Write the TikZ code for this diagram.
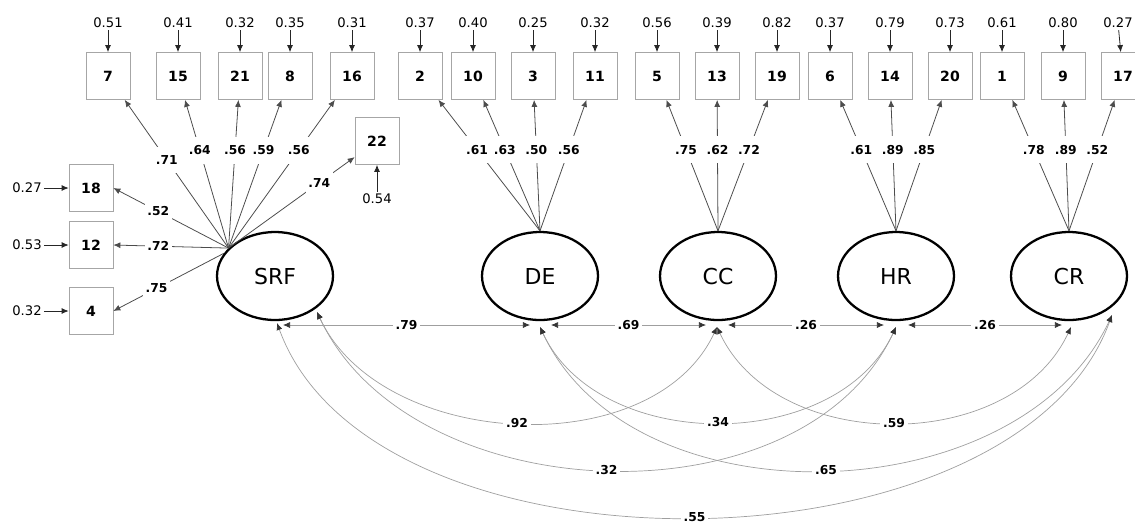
\documentclass[tikz,border=0pt]{standalone}
\usepackage{fontspec}
\setmainfont{DejaVu Sans}
\usepackage{tikz}
\usetikzlibrary{shapes,arrows.meta}
\tikzset{obs/.style={rectangle,draw=gray!70,fill=white,minimum width=0.88cm,minimum height=0.94cm,inner sep=0pt,font=\fontsize{8}{9}\selectfont\bfseries}}
\tikzset{lat/.style={ellipse,draw,line width=1.3pt,fill=white,minimum width=2.32cm,minimum height=1.76cm,inner sep=0pt,font=\fontsize{12.5}{14}\selectfont}}
\tikzset{err/.style={inner sep=1pt,font=\fontsize{7.5}{9}\selectfont}}
\tikzset{lab/.style={fill=white,inner xsep=1.5pt,inner ysep=5pt,font=\fontsize{7}{8}\selectfont\bfseries}}
\tikzset{ld/.style={->,draw=black!70,line width=0.45pt}}
\tikzset{er/.style={->,draw=black!85,line width=0.45pt}}
\tikzset{cv/.style={{Latex[length=4pt,width=3.4pt,color=black!80]}-{Latex[length=4pt,width=3.4pt,color=black!80]},draw=gray!75,line width=0.4pt}}

\begin{document}
\begin{tikzpicture}[>={Latex[length=4pt,width=3.4pt]},x=0.02cm,y=0.02cm]
    \useasboundingbox (0,0) rectangle (1135,-522);

    % items, top row
    \node[obs] (b7)at (108,-76) {7};
    \node[obs] (b15)at (178,-76) {15};
    \node[obs] (b21)at (240,-76) {21};
    \node[obs] (b8)at (290,-76) {8};
    \node[obs] (b16)at (352,-76) {16};
    \node[obs] (b2)at (420,-76) {2};
    \node[obs] (b10)at (473,-76) {10};
    \node[obs] (b3)at (533,-76) {3};
    \node[obs] (b11)at (595,-76) {11};
    \node[obs] (b5)at (657,-76) {5};
    \node[obs] (b13)at (717,-76) {13};
    \node[obs] (b19)at (777,-76) {19};
    \node[obs] (b6)at (830,-76) {6};
    \node[obs] (b14)at (890,-76) {14};
    \node[obs] (b20)at (950,-76) {20};
    \node[obs] (b1)at (1002,-76) {1};
    \node[obs] (b9)at (1063,-76) {9};
    \node[obs] (b17)at (1123,-76) {17};
    \node[obs] (b22)at (377,-141) {22};
    \node[obs] (b18)at (91,-188) {18};
    \node[obs] (b12)at (91,-245) {12};
    \node[obs] (b4)at (91,-311) {4};

    % error terms
    \node[err] (e7)at (108,-23) {0.51};
    \node[err] (e15)at (178,-23) {0.41};
    \node[err] (e21)at (240,-23) {0.32};
    \node[err] (e8)at (290,-23) {0.35};
    \node[err] (e16)at (352,-23) {0.31};
    \node[err] (e2)at (420,-23) {0.37};
    \node[err] (e10)at (473,-23) {0.40};
    \node[err] (e3)at (533,-23) {0.25};
    \node[err] (e11)at (595,-23) {0.32};
    \node[err] (e5)at (657,-23) {0.56};
    \node[err] (e13)at (717,-23) {0.39};
    \node[err] (e19)at (777,-23) {0.82};
    \node[err] (e6)at (830,-23) {0.37};
    \node[err] (e14)at (890,-23) {0.79};
    \node[err] (e20)at (950,-23) {0.73};
    \node[err] (e1)at (1002,-23) {0.61};
    \node[err] (e9)at (1063,-23) {0.80};
    \node[err] (e17)at (1118,-23) {0.27};
    \node[err] (e22)at (377,-199) {0.54};
    \node[err] (e18)at (27,-188) {0.27};
    \node[err] (e12)at (27,-245) {0.53};
    \node[err] (e4)at (27,-311) {0.32};

    \foreach \i in {7,15,21,8,16,2,10,3,11,5,13,19,6,14,20,1,9,17,22,18,12,4}
        \draw [er] (e\i) to []node[]{} (b\i);

    % factors
    \node[lat] (srf)at (275,-276) {SRF};
    \node[lat] (de)at (540,-276) {DE};
    \node[lat] (cc)at (718,-276) {CC};
    \node[lat] (hr)at (896,-276) {HR};
    \node[lat] (cr)at (1069,-276) {CR};

    % loadings
    \draw [ld] (srf.149) to []node[lab,pos=.595]{.71} (b7);
    \draw [ld] (srf.149) to []node[lab,pos=.66]{.64} (b15);
    \draw [ld] (srf.149) to []node[lab,pos=.66]{.56} (b21);
    \draw [ld] (srf.149) to []node[lab,pos=.66]{.59} (b8);
    \draw [ld] (srf.149) to []node[lab,pos=.66]{.56} (b16);
    \draw [ld] (srf.149) to []node[lab,pos=.72]{.74} (b22);
    \draw [ld] (srf.149) to []node[lab,pos=.61]{.52} (b18.east);
    \draw [ld] (srf.149) to []node[lab,pos=.61]{.72} (b12.east);
    \draw [ld] (srf.156) to []node[lab,pos=.61]{.75} (b4.east);

    \draw [ld] (de.north) to []node[lab,pos=.62]{.61} (b2);
    \draw [ld] (de.north) to []node[lab,pos=.62]{.63} (b10);
    \draw [ld] (de.north) to []node[lab,pos=.62]{.50} (b3);
    \draw [ld] (de.north) to []node[lab,pos=.62]{.56} (b11);

    \draw [ld] (cc.north) to []node[lab,pos=.62]{.75} (b5);
    \draw [ld] (cc.north) to []node[lab,pos=.62]{.62} (b13);
    \draw [ld] (cc.north) to []node[lab,pos=.62]{.72} (b19);

    \draw [ld] (hr.north) to []node[lab,pos=.62]{.61} (b6);
    \draw [ld] (hr.north) to []node[lab,pos=.62]{.89} (b14);
    \draw [ld] (hr.north) to []node[lab,pos=.62]{.85} (b20);

    \draw [ld] (cr.north) to []node[lab,pos=.62]{.78} (b1);
    \draw [ld] (cr.north) to []node[lab,pos=.62]{.89} (b9);
    \draw [ld] (cr.north) to []node[lab,pos=.62]{.52} (b17);

    % covariances
    \coordinate (srf-s) at (277,-323);
    \coordinate (srf-se) at (317,-312);
    \coordinate (srf-e) at (283,-325);
    \coordinate (de-w) at (530,-325);
    \coordinate (de-s) at (540,-327);
    \coordinate (de-e) at (551,-325);
    \coordinate (cc-w) at (706,-325);
    \coordinate (cc-s) at (717,-327);
    \coordinate (cc-e) at (728,-325);
    \coordinate (hr-w) at (884,-325);
    \coordinate (hr-s) at (896,-327);
    \coordinate (hr-e) at (908,-325);
    \coordinate (cr-w) at (1062,-325);
    \coordinate (cr-s) at (1071,-327);
    \coordinate (cr-se) at (1112,-315);

    \draw [cv] (srf-e) to []node[lab]{.79} (de-w);
    \draw [cv] (de-e) to []node[lab]{.69} (cc-w);
    \draw [cv] (cc-e) to []node[lab]{.26} (hr-w);
    \draw [cv] (hr-e) to []node[lab]{.26} (cr-w);

    \draw [cv] (srf-se) to [out=-65,in=-115,looseness=.97]node[lab]{.92} (cc-s);
    \draw [cv] (srf-se) to [out=-65,in=-115,looseness=.975]node[lab]{.32} (hr-s);
    \draw [cv] (srf-s) to [out=-70,in=-110,looseness=.86]node[lab]{.55} (cr-se);
    \draw [cv] (de-s) to [out=-65,in=-115,looseness=1.01]node[lab]{.34} (hr-s);
    \draw [cv] (de-s) to [out=-65,in=-115,looseness=.98]node[lab]{.65} (cr-se);
    \draw [cv] (cc-s) to [out=-65,in=-115,looseness=1.02]node[lab]{.59} (cr-s);
\end{tikzpicture}
\end{document}
